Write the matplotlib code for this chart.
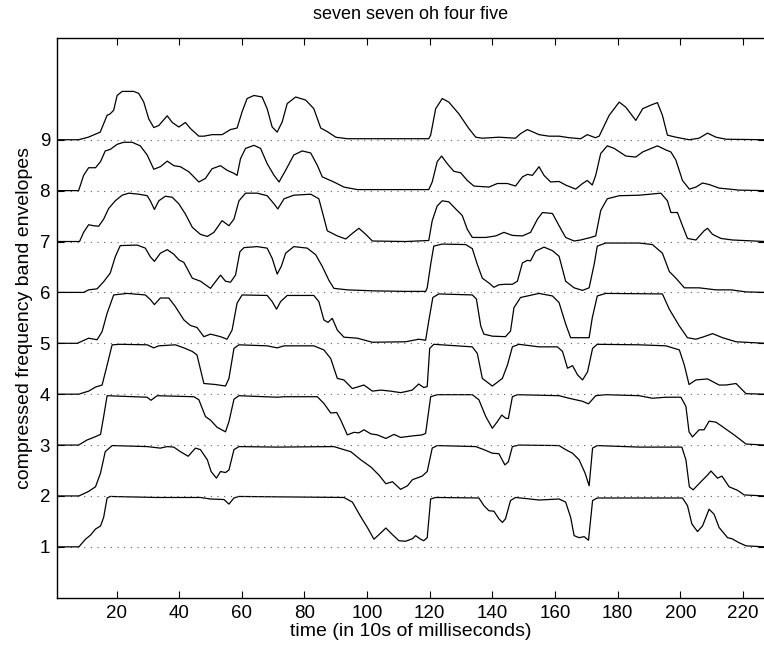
# %%
import numpy as np
from matplotlib import pyplot as plt

# %%
FIG_DIM = (7.64, 6.49)
plt.rcParams["font.family"] = ["Liberation Sans", "DejaVu Sans"]
plt.rcParams["font.size"] = 13

# %%
# band envelopes, (frame, value), band 1 at the bottom
band1 = [(1, 0), (8, 0), (10.1, 0.15), (11.7, 0.23), (13.3, 0.35), (14.9, 0.41), (15.9, 0.58), (17, 0.96),
         (18, 0.99), (33, 0.97), (46.8, 0.97), (50, 0.94), (54.3, 0.93), (55.9, 0.84), (57.5, 0.96), (59.1, 0.99),
         (92.6, 0.97), (95.3, 0.88), (98, 0.59), (100.1, 0.38), (102.2, 0.15), (103.8, 0.24), (106, 0.37),
         (108.1, 0.24), (110.2, 0.12), (112.3, 0.11), (114.5, 0.16), (115.5, 0.22), (117.1, 0.15), (118.1, 0.12),
         (119.2, 0.18), (120.3, 0.94), (121.9, 0.97), (135.7, 0.96), (137.3, 0.81), (138.9, 0.71), (140.5, 0.70),
         (142.1, 0.55), (143.2, 0.48), (144.2, 0.55), (145.8, 0.91), (147.4, 0.97), (150.6, 0.95), (154.9, 0.92),
         (161.3, 0.94), (163.4, 0.88), (165, 0.58), (166.1, 0.22), (167.7, 0.18), (169.3, 0.20), (170.7, 0.13),
         (172, 0.91), (173.5, 0.96), (200.7, 0.96), (202.3, 0.81), (203.7, 0.45), (205.5, 0.30), (207.1, 0.41),
         (209.2, 0.74), (210.8, 0.64), (212.4, 0.38), (215.1, 0.18), (216.5, 0.16), (218.8, 0.08), (221, 0.02),
         (227, 0)]
band2 = [(1, 0), (8, 0), (11.1, 0.09), (13.3, 0.18), (14.9, 0.45), (16.4, 0.87), (18.6, 0.99), (29.8, 0.97),
         (34, 0.94), (36.2, 0.97), (38.3, 0.96), (40.4, 0.87), (42.9, 0.78), (45.2, 0.94), (46.8, 0.91), (49, 0.71),
         (50.2, 0.48), (51.9, 0.35), (53.2, 0.48), (54.8, 0.46), (55.9, 0.51), (57.5, 0.91), (59.1, 0.97),
         (71.3, 0.96), (89.4, 0.97), (92.6, 0.91), (94.8, 0.87), (98, 0.71), (101.2, 0.57), (103.8, 0.41),
         (106, 0.24), (108.1, 0.28), (110.7, 0.13), (112.9, 0.20), (114.5, 0.32), (117.6, 0.39), (119.2, 0.48),
         (120.8, 0.94), (122.4, 0.99), (134.7, 0.97), (137.3, 0.91), (140, 0.84), (142.1, 0.83), (144, 0.61),
         (145.1, 0.67), (146.4, 0.97), (148.5, 1.0), (161.3, 0.99), (163.4, 0.91), (165.6, 0.84), (167.7, 0.71),
         (169.6, 0.45), (170.9, 0.20), (172, 0.94), (173.5, 0.99), (186.9, 0.96), (200.5, 0.96), (201.8, 0.71),
         (202.9, 0.18), (204.1, 0.12), (206.6, 0.28), (208.7, 0.41), (209.8, 0.49), (211.9, 0.35), (213.3, 0.39),
         (215.6, 0.18), (218.3, 0.11), (220.4, 0.02), (227, 0)]
band3 = [(1, 0), (7.9, 0), (10.6, 0.10), (12.7, 0.15), (14.9, 0.21), (15.9, 0.56), (17, 0.97), (29.8, 0.94),
         (31, 0.88), (33, 0.97), (44.7, 0.95), (46.3, 0.89), (48.4, 0.56), (50, 0.49), (52.1, 0.35), (54.8, 0.26),
         (55.9, 0.46), (57.5, 0.90), (59.1, 0.97), (71.3, 0.94), (73.5, 0.95), (84.1, 0.95), (86.2, 0.82),
         (88.4, 0.63), (90.3, 0.64), (91.6, 0.49), (93.7, 0.20), (95.8, 0.25), (97.4, 0.24), (99, 0.30),
         (101.2, 0.22), (103.3, 0.20), (106, 0.13), (108.6, 0.21), (110.7, 0.15), (114.5, 0.18), (117.6, 0.20),
         (118.7, 0.23), (120.3, 0.95), (122.4, 0.99), (133.6, 0.99), (135.7, 0.89), (137.9, 0.56), (140, 0.33),
         (141.6, 0.46), (143, 0.59), (144.2, 0.53), (145.1, 0.52), (146.4, 0.95), (148, 0.99), (161.3, 0.97),
         (164.5, 0.92), (168.8, 0.86), (170.7, 0.81), (173, 0.97), (176.2, 0.99), (186.9, 0.97), (191.1, 0.92),
         (195.4, 0.94), (200.2, 0.94), (201.8, 0.76), (202.8, 0.26), (203.9, 0.16), (206, 0.30), (207.6, 0.30),
         (209.2, 0.47), (211.4, 0.45), (213.5, 0.36), (217.2, 0.20), (221, 0.02), (227, 0)]
band4 = [(1, 0), (7.9, 0), (11.1, 0.06), (13.3, 0.14), (15.4, 0.18), (17, 0.57), (18.6, 0.97), (21.2, 0.98),
         (29.8, 0.97), (31.9, 0.91), (33.5, 0.95), (38.8, 0.97), (41.5, 0.91), (44.2, 0.84), (45.7, 0.77),
         (47.9, 0.21), (51.6, 0.19), (54.8, 0.16), (55.9, 0.31), (57.5, 0.90), (59.1, 0.97), (68.1, 0.95),
         (71.3, 0.91), (73.5, 0.95), (83, 0.95), (86.2, 0.87), (88.4, 0.70), (90.5, 0.31), (92.6, 0.28),
         (95.3, 0.11), (96.9, 0.14), (99, 0.18), (101.7, 0.06), (104.4, 0.08), (107.5, 0.06), (110.7, 0.03),
         (112.3, 0.05), (114.4, 0.08), (116.5, 0.20), (118.1, 0.13), (119.2, 0.15), (120, 0.90), (121.3, 0.98),
         (133.6, 0.93), (135.2, 0.80), (136.8, 0.31), (140, 0.16), (143.2, 0.31), (144.8, 0.57), (146.4, 0.93),
         (148.5, 0.98), (154.9, 0.93), (160.8, 0.93), (162.4, 0.84), (164, 0.51), (165.6, 0.56), (167.2, 0.38),
         (168.8, 0.28), (170.4, 0.44), (172, 0.90), (173.5, 0.98), (186.9, 0.97), (195.4, 0.95), (199.7, 0.87),
         (201.3, 0.57), (202.8, 0.19), (205, 0.28), (208.7, 0.30), (212.4, 0.18), (214.6, 0.18), (217.8, 0.21),
         (221, 0.01), (227, 0)]
band5 = [(1, 0), (7.5, 0), (11.1, 0.10), (13.8, 0.07), (15.4, 0.23), (17, 0.59), (19.1, 0.95), (23.4, 0.98),
         (29.2, 0.95), (30.8, 0.86), (32.1, 0.76), (34, 0.89), (36.7, 0.89), (38.8, 0.72), (41.5, 0.46),
         (43.6, 0.35), (45.7, 0.31), (47.9, 0.13), (50, 0.18), (53.2, 0.13), (55.3, 0.08), (56.9, 0.26),
         (58.5, 0.79), (60.1, 0.95), (68.1, 0.94), (69.7, 0.82), (71.1, 0.67), (72.4, 0.82), (74.5, 0.94),
         (83, 0.94), (84.6, 0.82), (86.2, 0.46), (87.5, 0.41), (88.9, 0.49), (90.5, 0.26), (92.6, 0.12),
         (96.9, 0.10), (101.7, 0.02), (112.3, 0.03), (116.5, 0.08), (118.7, 0.06), (119.7, 0.44), (121, 0.90),
         (122.9, 0.97), (133.6, 0.95), (134.9, 0.87), (136.3, 0.34), (137.3, 0.18), (140, 0.14), (144.2, 0.13),
         (145.8, 0.24), (146.9, 0.70), (149, 0.90), (154.9, 0.98), (159.2, 0.93), (161.3, 0.80), (163.4, 0.38),
         (165, 0.11), (170.9, 0.11), (171.9, 0.50), (173.5, 0.93), (176.2, 0.98), (194.3, 0.97), (196.5, 0.67),
         (199.7, 0.34), (202.3, 0.11), (205, 0.08), (207.6, 0.13), (210.3, 0.19), (213.5, 0.11), (217.8, 0.03),
         (227, 0)]
band6 = [(1, 0), (9.5, 0), (11.1, 0.05), (13.8, 0.07), (15.9, 0.21), (18, 0.38), (19.6, 0.70), (21.2, 0.92),
         (26.6, 0.93), (29.2, 0.87), (30.8, 0.70), (32.1, 0.61), (34, 0.77), (36.2, 0.84), (38.3, 0.75),
         (39.9, 0.64), (41.5, 0.59), (44.2, 0.28), (46.8, 0.22), (50, 0.08), (51.6, 0.21), (53.2, 0.34),
         (54.8, 0.22), (56.4, 0.20), (58, 0.34), (59.4, 0.80), (60.7, 0.88), (64.9, 0.90), (68.1, 0.87),
         (69.7, 0.67), (71.3, 0.36), (72.6, 0.51), (74, 0.77), (76.6, 0.90), (80.9, 0.87), (83.6, 0.74),
         (85.7, 0.51), (87.8, 0.24), (89.4, 0.08), (93.7, 0.05), (102.2, 0.03), (112.3, 0.02), (118.7, 0.02),
         (119.2, 0.09), (120.3, 0.55), (121.3, 0.91), (124, 0.95), (131.5, 0.94), (133.6, 0.86), (135.2, 0.55),
         (136.8, 0.28), (139, 0.18), (140.5, 0.10), (142.1, 0.15), (144.2, 0.16), (146.4, 0.16), (148, 0.22),
         (149.6, 0.58), (151.2, 0.63), (152.2, 0.62), (153.8, 0.81), (156.5, 0.89), (159.2, 0.82), (161.3, 0.71),
         (163.4, 0.22), (166.1, 0.09), (168.8, 0.04), (170.9, 0.09), (172.5, 0.55), (173.5, 0.91), (176.2, 0.97),
         (186.9, 0.97), (191.1, 0.94), (194.3, 0.77), (196.5, 0.41), (198.6, 0.28), (201.3, 0.09), (206, 0.09),
         (211.4, 0.05), (216.2, 0.05), (221, 0.01), (227, 0)]
band7 = [(1, 0), (8.2, 0), (9.5, 0.18), (11.1, 0.33), (12.7, 0.31), (14.3, 0.30), (15.9, 0.44), (17.5, 0.65),
         (19.6, 0.80), (21.8, 0.91), (23.9, 0.95), (27.1, 0.93), (29.8, 0.90), (30.8, 0.80), (32.1, 0.63),
         (33.5, 0.80), (35.6, 0.89), (37.8, 0.87), (39.9, 0.74), (42, 0.54), (44.2, 0.28), (46.8, 0.14),
         (49, 0.10), (51.1, 0.18), (53.7, 0.41), (55.9, 0.31), (57.5, 0.44), (59.1, 0.80), (61.2, 0.95),
         (64.9, 0.95), (68.1, 0.90), (70.3, 0.74), (71.5, 0.64), (73.5, 0.84), (76.6, 0.91), (82, 0.93),
         (84.6, 0.84), (86.2, 0.47), (87.3, 0.21), (90.5, 0.11), (93.2, 0.05), (95.3, 0.16), (97.4, 0.26),
         (99.6, 0.14), (101.7, 0.01), (112.3, 0.0), (119.7, 0.02), (120.8, 0.41), (122.4, 0.70), (124, 0.80),
         (126.1, 0.78), (128.3, 0.64), (130.4, 0.51), (132, 0.24), (133.6, 0.08), (137.9, 0.08), (141.1, 0.11),
         (143.7, 0.18), (146.4, 0.12), (149.6, 0.11), (152.2, 0.18), (154.4, 0.44), (156, 0.57), (159.2, 0.55),
         (161.3, 0.31), (163.4, 0.08), (166.1, 0.01), (168.2, 0.03), (171.4, 0.08), (173, 0.11), (174.6, 0.61),
         (176.7, 0.84), (180.5, 0.90), (186.9, 0.91), (193.8, 0.95), (195.9, 0.80), (197, 0.57), (199.1, 0.57),
         (200.7, 0.31), (202.3, 0.06), (205, 0.03), (207.6, 0.21), (208.7, 0.26), (210.3, 0.14), (213, 0.06),
         (216.7, 0.03), (227, 0)]
band8 = [(1, 0), (7.9, 0), (9.5, 0.30), (11.1, 0.45), (13.3, 0.45), (14.9, 0.57), (16.4, 0.78), (18, 0.81),
         (20.2, 0.91), (22.3, 0.95), (25, 0.95), (27.6, 0.88), (29.8, 0.70), (31.9, 0.42), (34, 0.47),
         (36.2, 0.58), (38.3, 0.49), (40.4, 0.47), (43.1, 0.37), (46.3, 0.17), (48.4, 0.24), (50.5, 0.43),
         (53.2, 0.49), (55.3, 0.40), (57.5, 0.34), (58.5, 0.30), (59.6, 0.63), (61.2, 0.83), (63.9, 0.89),
         (66, 0.83), (68.1, 0.53), (70.3, 0.30), (71.9, 0.17), (74, 0.40), (76.6, 0.70), (79.3, 0.78),
         (82, 0.74), (84.1, 0.50), (85.7, 0.27), (89.4, 0.17), (92.6, 0.07), (96.9, 0.02), (112.3, 0.02),
         (119.7, 0.02), (120.8, 0.17), (122.4, 0.57), (123.8, 0.68), (125.6, 0.53), (127.7, 0.38), (129.9, 0.35),
         (132, 0.20), (134.1, 0.09), (138.9, 0.07), (141.6, 0.14), (144.8, 0.14), (147.4, 0.09), (149.6, 0.27),
         (151.2, 0.32), (152.8, 0.30), (154.9, 0.47), (156.5, 0.30), (158.6, 0.17), (161.3, 0.18), (163.4, 0.11),
         (166.6, 0.03), (168.8, 0.14), (170.3, 0.20), (171.9, 0.11), (173, 0.30), (174.6, 0.73), (176.7, 0.88),
         (178.9, 0.83), (182.6, 0.68), (185.8, 0.66), (188, 0.76), (192.7, 0.88), (195.4, 0.80), (197, 0.76),
         (198.6, 0.60), (200.7, 0.20), (202.9, 0.03), (205, 0.07), (207.1, 0.15), (209.2, 0.12), (212.4, 0.05),
         (218.8, 0.01), (227, 0)]
band9 = [(1, 0), (7.9, 0), (11, 0.05), (14.8, 0.15), (17, 0.48), (18, 0.51), (19.1, 0.58), (20.2, 0.87),
         (21.8, 0.95), (25.5, 0.95), (27.1, 0.91), (28.7, 0.74), (30.3, 0.41), (31.9, 0.24), (33.5, 0.28),
         (36.2, 0.47), (37.8, 0.34), (39.9, 0.25), (42, 0.34), (43.6, 0.22), (46.3, 0.07), (47.9, 0.07),
         (50.5, 0.10), (53.7, 0.10), (56.4, 0.20), (58.5, 0.23), (60.1, 0.55), (61.7, 0.81), (63.9, 0.87),
         (66.5, 0.84), (68.1, 0.61), (69.7, 0.25), (71.3, 0.15), (72.9, 0.35), (74.5, 0.71), (77.2, 0.84),
         (80.4, 0.78), (83, 0.61), (85.2, 0.23), (87.3, 0.16), (90, 0.05), (93.7, 0.02), (112.3, 0.02),
         (119.7, 0.02), (120.3, 0.09), (121.9, 0.61), (124, 0.81), (126.1, 0.74), (129.3, 0.51), (132.5, 0.22),
         (134.7, 0.05), (136.8, 0.03), (142.1, 0.05), (147.4, 0.03), (149, 0.12), (151.2, 0.20), (154.9, 0.10),
         (158.1, 0.07), (161.3, 0.07), (164.5, 0.04), (168.2, 0.02), (170.3, 0.10), (172.9, 0.04), (174.1, 0.07),
         (177.3, 0.48), (180.5, 0.74), (182.6, 0.64), (185.8, 0.38), (188, 0.61), (190.6, 0.68), (192.7, 0.73),
         (194.3, 0.48), (195.9, 0.09), (198.6, 0.05), (202.8, 0.0), (206, 0.03), (208.7, 0.13), (211.4, 0.05),
         (214.6, 0.01), (227, 0)]

bands = [band1, band2, band3, band4, band5, band6, band7, band8, band9]
band_numbers = [1, 2, 3, 4, 5, 6, 7, 8, 9]
x_ticks = [20, 40, 60, 80, 100, 120, 140, 160, 180, 200, 220]

# %%
fig = plt.figure(figsize=FIG_DIM, dpi=100)
# right edge of the box sits just past the picture, as in the reference
ax = fig.add_axes([0.0746, 0.079, 0.9265, 0.8625])

for k, band in zip(band_numbers, bands):
    frames = np.array([p[0] for p in band])
    env = np.array([p[1] for p in band])
    ax.plot([1, 227], [k, k], color="0.35", linestyle=(0, (1, 5)), linewidth=0.8)
    ax.plot(frames, env + k, color="black", linewidth=0.9)

ax.set_xlim(1, 227)
ax.set_ylim(0, 11)
ax.set_xticks(x_ticks)
ax.set_yticks(band_numbers)
ax.tick_params(direction="in", length=5, width=0.8, top=True, right=True, labelsize=13.5, pad=5)
for s in ax.spines.values():
    s.set_linewidth(1.0)

ax.set_title("seven seven oh four five", fontsize=13, pad=14)
ax.set_xlabel("time (in 10s of milliseconds)", fontsize=14, labelpad=1)
ax.set_ylabel("compressed frequency band envelopes", fontsize=14, labelpad=5)

plt.savefig("out.png", dpi=100)
